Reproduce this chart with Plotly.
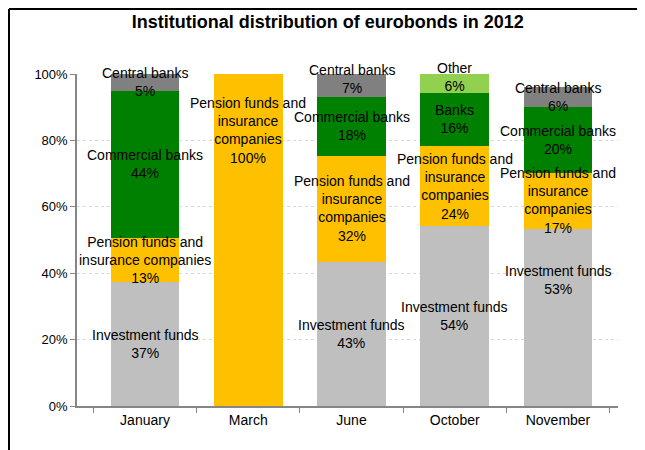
import plotly.graph_objects as go

# data (shares in %, bottom to top)
months = ["January", "March", "June", "October", "November"]
investment_funds = [37.4, 0, 43.4, 54.2, 53.3]
pension_funds = [13.3, 100, 31.9, 24.1, 16.9]
commercial_banks = [44.2, 0, 17.8, 0, 19.9]
banks = [0, 0, 0, 16.0, 0]
central_banks = [5.1, 0, 6.9, 0, 6.0]
other = [0, 0, 0, 5.7, 0]

series = [
    ("Investment funds", investment_funds, "#BFBFBF"),
    ("Pension funds and<br>insurance<br>companies", pension_funds, "#FFC000"),
    ("Commercial banks", commercial_banks, "#008000"),
    ("Banks", banks, "#008000"),
    ("Central banks", central_banks, "#808080"),
    ("Other", other, "#92D050"),
]

# label tweaks (pixels / wrapping) to follow the hand placed labels
label_text_override = {("January", 1): "Pension funds and<br>insurance companies"}
label_yshift = {("March", 1): 110, ("November", 0): 38, ("June", 4): 6, ("October", 5): 6}

FONT = "Liberation Sans, Arial"

fig = go.Figure()
base = [0.0] * len(months)
annotations = []
for i, (name, vals, color) in enumerate(series):
    fig.add_trace(go.Bar(x=months, y=vals, name=name, marker=dict(color=color, line=dict(width=0))))
    for j, m in enumerate(months):
        v = vals[j]
        if v > 0:
            txt = label_text_override.get((m, i), name)
            annotations.append(dict(
                x=m, y=base[j] + v / 2, xref="x", yref="y",
                text=f"{txt}<br>{round(v)}%", showarrow=False,
                font=dict(family=FONT, size=14, color="black"),
                yshift=label_yshift.get((m, i), 0),
            ))
        base[j] += v

# frame on the top and left edge of the chart
W0, W1 = -0.1257, 1.06
H0, H1 = -0.15, 1.1958
shapes = [
    dict(type="line", xref="paper", yref="paper", x0=W0, x1=W1, y0=H1, y1=H1,
         line=dict(color="black", width=2)),
    dict(type="line", xref="paper", yref="paper", x0=W0, x1=W0, y0=H0, y1=H1,
         line=dict(color="black", width=2)),
]

fig.update_layout(
    barmode="stack",
    bargap=0.335,
    width=637,
    height=442,
    margin=dict(l=69, r=27, t=66, b=44),
    paper_bgcolor="white",
    plot_bgcolor="white",
    showlegend=False,
    font=dict(family=FONT, size=14, color="black"),
    title=dict(text="<b>Institutional distribution of eurobonds in 2012</b>",
               x=0.502, xanchor="center", y=0.968, yanchor="middle",
               font=dict(family=FONT, size=18, color="black")),
    annotations=annotations,
    shapes=shapes,
    xaxis=dict(showline=True, linecolor="#868686", linewidth=1.5,
               ticks="outside", tickson="boundaries", ticklen=5, tickcolor="#868686",
               tickfont=dict(size=14)),
    yaxis=dict(range=[0, 100], dtick=20, ticksuffix="%",
               showline=True, linecolor="#868686", linewidth=1.5,
               ticks="outside", ticklen=5, tickcolor="#868686",
               showgrid=True, gridcolor="#D9D9D9", griddash="dot", gridwidth=1,
               zeroline=False, tickfont=dict(size=13)),
)

fig.write_html("out.html")
